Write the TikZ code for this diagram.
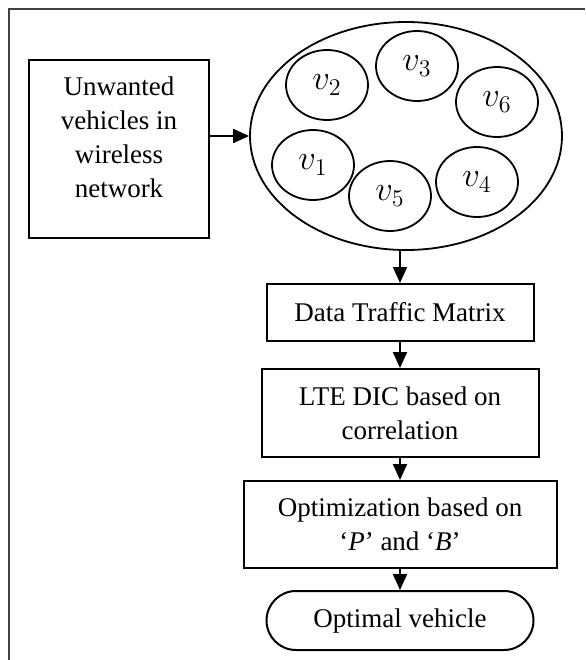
\documentclass[tikz,border=0pt]{standalone}
\usepackage{fontspec}
\setmainfont{Liberation Serif}
\usetikzlibrary{arrows.meta,shapes.geometric,shapes.misc}

\tikzset{
	box/.style={draw, line width=1pt, align=center, inner sep=0pt},
	vnode/.style={draw, line width=0.9pt, ellipse, inner sep=0pt, minimum width=41pt, minimum height=35pt, font=\fontsize{17}{20}\selectfont},
	flow/.style={line width=1pt, -{Triangle[width=7pt,length=8pt]}}
}

\begin{document}
\begin{tikzpicture}[x=0.5pt, y=-0.5pt, font=\fontsize{13.5}{17}\selectfont]
\useasboundingbox (0,0) rectangle (585,660);

% frame
\draw[line width=1.1pt, black!75] (585,9) -- (9,9) -- (9,662);

% input
\node[box, minimum width=90pt, minimum height=89pt] (unwanted) at (119,149) {};
\node[align=center] (unwantedtxt) at (119,137) {Unwanted\\vehicles in\\wireless\\network};

% network of vehicles
\node[draw, line width=0.9pt, ellipse, inner sep=0pt, minimum width=156pt, minimum height=114pt] (net) at (406,136) {};
\foreach \n/\x/\y in {1/313/165, 2/327/85, 3/417/66, 4/477/182, 5/390/196, 6/497/102}
	\node[vnode] (v\n) at (\x,\y) {$v_{\n}$};

% steps
\node[box, minimum width=133.5pt, minimum height=28.5pt] (data) at (400,312.5) {Data Traffic Matrix};
\node[box, minimum width=138.5pt, minimum height=44pt] (lte) at (400,413) {LTE DIC based on\\correlation};
\node[box, minimum width=156.5pt, minimum height=43.5pt] (opt) at (400,524.5) {Optimization based on\\‘\textit{P}’ and ‘\textit{B}’};
\node[box, rounded rectangle, minimum width=133.5pt, minimum height=29.5pt] (optimal) at (400,620.5) {Optimal vehicle};

% arrows
\draw[flow] (unwanted.east |- net.west) -- (net.west);
\draw[flow] (data.north |- net.south) -- (data.north);
\draw[flow] (data) -- (lte);
\draw[flow] (lte) -- (opt);
\draw[flow] (opt) -- (optimal);

\end{tikzpicture}
\end{document}
